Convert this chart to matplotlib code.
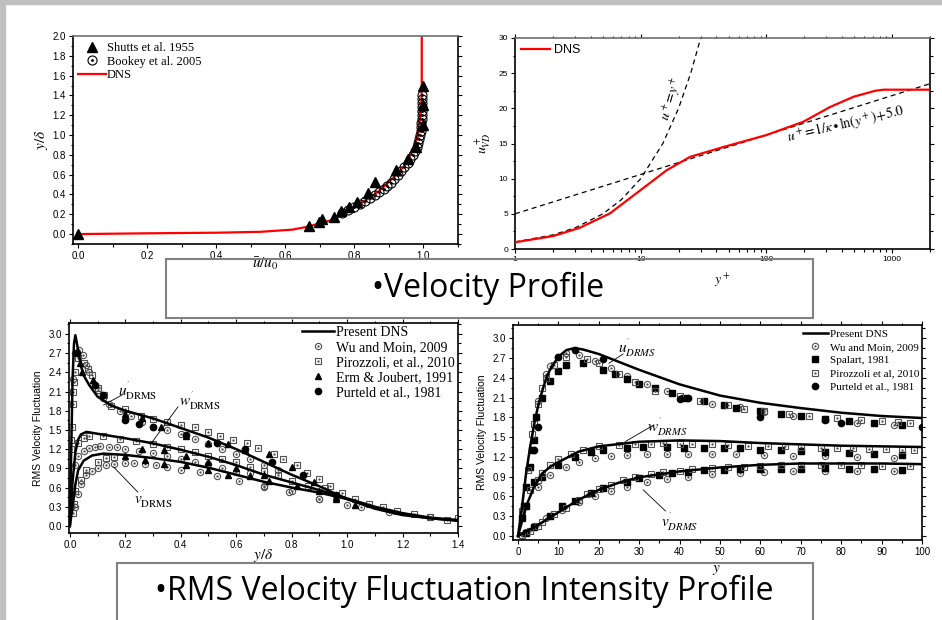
import matplotlib
matplotlib.use("Agg")
import matplotlib.pyplot as plt
from matplotlib.patches import Rectangle
from matplotlib.ticker import MultipleLocator, LogLocator, NullFormatter

plt.rcParams['font.family'] = ['Liberation Sans', 'DejaVu Sans']
plt.rcParams['mathtext.fontset'] = 'stix'

# ---- Velocity profile (outer units) ----
dns_u = [0.0, 0.2, 0.4, 0.528, 0.62, 0.664, 0.741, 0.819, 0.87, 0.916, 0.945, 0.964, 0.984, 0.993, 0.995, 0.995]
dns_yd = [0.0, 0.008, 0.014, 0.023, 0.045, 0.074, 0.148, 0.31, 0.43, 0.58, 0.69, 0.815, 0.98, 1.25, 1.45, 2.0]
shutts_u = [0.0, 0.669, 0.698, 0.707, 0.741, 0.761, 0.785, 0.807, 0.838, 0.86, 0.921, 0.955, 0.979, 1.0, 1.0, 1.0]
shutts_yd = [0.0, 0.084, 0.124, 0.151, 0.175, 0.236, 0.276, 0.327, 0.41, 0.53, 0.65, 0.76, 0.88, 1.10, 1.30, 1.50]
bookey_u = [0.765, 0.78, 0.80, 0.815, 0.83, 0.845, 0.86, 0.87, 0.885, 0.895, 0.905, 0.915, 0.925, 0.935, 0.945,
            0.955, 0.962, 0.97, 0.975, 0.98, 0.985, 0.988, 0.99, 0.992, 0.993, 0.994, 0.995, 0.995, 0.995, 0.995,
            0.995, 0.995, 0.995]
bookey_yd = [0.21, 0.24, 0.27, 0.30, 0.33, 0.36, 0.39, 0.42, 0.46, 0.49, 0.52, 0.56, 0.60, 0.64, 0.68,
             0.72, 0.76, 0.80, 0.84, 0.88, 0.92, 0.96, 1.00, 1.04, 1.08, 1.12, 1.16, 1.20, 1.24, 1.28,
             1.32, 1.36, 1.40]

# ---- Velocity profile (wall units) ----
vd_yplus = [1, 2.02, 3.29, 5.7, 10, 16.1, 24.7, 45.5, 100, 197, 322, 494, 735, 853, 2000]
vd_uplus = [0.95, 1.85, 3.03, 5.07, 8.39, 11.2, 13.1, 14.5, 16.2, 18.1, 20.2, 21.65, 22.5, 22.65, 22.65]
visc_yplus = [1, 2, 3, 5, 7, 10, 15, 20, 25, 30]
visc_uplus = [1, 2, 3, 5, 7, 10, 15, 20, 25, 30]
log_yplus = [1, 2000]
log_uplus = [5.0, 23.5]

# ---- RMS fluctuation vs y/delta ----
o_yd_u = [0, 0.005, 0.01, 0.015, 0.02, 0.03, 0.04, 0.05, 0.07, 0.1, 0.15, 0.2, 0.3, 0.4, 0.5, 0.6, 0.7, 0.8,
          0.9, 1.0, 1.1, 1.2, 1.3, 1.4]
o_u = [0, 1.2, 2.3, 2.85, 2.98, 2.75, 2.5, 2.35, 2.2, 2.02, 1.88, 1.8, 1.68, 1.53, 1.38, 1.2, 1.0, 0.8,
       0.62, 0.42, 0.27, 0.17, 0.12, 0.09]
o_yd_w = [0, 0.01, 0.02, 0.03, 0.04, 0.06, 0.1, 0.2, 0.3, 0.4, 0.5, 0.6, 0.7, 0.8, 0.9, 1.0, 1.1, 1.2, 1.3, 1.4]
o_w = [0, 0.7, 1.15, 1.35, 1.43, 1.47, 1.44, 1.37, 1.29, 1.19, 1.08, 0.95, 0.8, 0.68, 0.56, 0.43, 0.3, 0.2,
       0.13, 0.09]
o_yd_v = [0, 0.01, 0.02, 0.03, 0.05, 0.08, 0.12, 0.2, 0.3, 0.4, 0.5, 0.6, 0.7, 0.8, 0.9, 1.0, 1.1, 1.2, 1.3, 1.4]
o_v = [0, 0.3, 0.65, 0.87, 1.02, 1.1, 1.13, 1.11, 1.06, 1.0, 0.91, 0.8, 0.69, 0.6, 0.52, 0.42, 0.29, 0.19,
       0.12, 0.08]

o_wu_x = [0.005, 0.012, 0.02, 0.034, 0.046, 0.058, 0.07, 0.1, 0.12, 0.14, 0.18, 0.22, 0.26, 0.3, 0.35, 0.4,
          0.45, 0.5, 0.55, 0.6, 0.65, 0.7, 0.75,
          0.02, 0.03, 0.05, 0.07, 0.09, 0.11, 0.14, 0.17, 0.2, 0.25, 0.3, 0.35, 0.4, 0.45, 0.5, 0.55, 0.6,
          0.65, 0.7, 0.8, 0.9,
          0.02, 0.03, 0.04, 0.06, 0.08, 0.1, 0.13, 0.16, 0.2, 0.23, 0.27, 0.31, 0.35, 0.4, 0.47, 0.53, 0.61,
          0.7, 0.79, 0.9, 1.0, 1.05, 1.15, 1.3]
o_wu_y = [0.3, 2.3, 2.7, 2.75, 2.67, 2.52, 2.41, 2.12, 2.0, 1.9, 1.8, 1.72, 1.63, 1.55, 1.5, 1.43,
          1.36, 1.28, 1.2, 1.12, 1.05, 0.95, 0.88,
          0.95, 1.1, 1.17, 1.22, 1.24, 1.25, 1.24, 1.23, 1.2, 1.17, 1.14, 1.1, 1.05, 1.0, 0.96, 0.9, 0.85,
          0.82, 0.61, 0.55, 0.42,
          0.3, 0.5, 0.65, 0.8, 0.86, 0.9, 0.95, 0.97, 0.98, 0.98, 0.97, 0.95, 0.92, 0.88, 0.84, 0.78, 0.7,
          0.62, 0.53, 0.42, 0.32, 0.29, 0.22, 0.14]
o_pi_x = [0.005, 0.008, 0.01, 0.012, 0.015, 0.018, 0.03, 0.05, 0.065, 0.08, 0.1, 0.125, 0.15, 0.2, 0.255,
          0.3, 0.35, 0.4, 0.45, 0.5, 0.54, 0.59, 0.64, 0.68, 0.735, 0.77, 0.82, 0.855, 0.9, 0.94, 0.98,
          1.03, 1.08, 1.13, 1.18, 1.24, 1.3, 1.36, 1.4,
          0.005, 0.03, 0.05, 0.07, 0.12, 0.18, 0.24, 0.3, 0.35, 0.4, 0.45, 0.5, 0.55, 0.6, 0.65, 0.7, 0.75,
          0.8, 0.86, 0.92,
          0.01, 0.015, 0.02, 0.04, 0.06, 0.1, 0.13, 0.16]
o_pi_y = [1.2, 1.55, 1.9, 2.1, 2.25, 2.4, 2.62, 2.55, 2.45, 2.35, 2.15, 2.05, 1.88, 1.82, 1.72,
          1.67, 1.63, 1.58, 1.54, 1.47, 1.41, 1.35, 1.29, 1.21, 1.13, 1.04, 0.95, 0.83, 0.73, 0.63, 0.51,
          0.42, 0.35, 0.3, 0.24, 0.18, 0.14, 0.1, 0.12,
          1.35, 1.3, 1.38, 1.4, 1.4, 1.36, 1.33, 1.28, 1.23, 1.2, 1.15, 1.1, 1.05, 1.0, 0.92, 0.86, 0.8,
          0.7, 0.63, 0.6,
          0.2, 0.35, 0.55, 0.72, 0.88, 1.0, 1.06, 1.08]
o_erm_x = [0.035, 0.045, 0.085, 0.2, 0.26, 0.33, 0.42, 0.5, 0.57, 0.63, 0.72, 0.8, 0.88, 0.96,
           0.2, 0.26, 0.34, 0.42, 0.5, 0.6, 0.7,
           0.27, 0.34, 0.42, 0.5, 0.57, 0.65, 0.72, 0.82, 0.9, 0.96, 1.03]
o_erm_y = [2.55, 2.4, 2.28, 1.75, 1.68, 1.55, 1.4, 1.3, 1.28, 1.18, 1.12, 0.92, 0.68, 0.45,
           1.1, 1.2, 1.18, 1.1, 1.0, 0.9, 0.8,
           1.03, 0.97, 0.95, 0.87, 0.8, 0.78, 0.7, 0.62, 0.55, 0.42, 0.33]
o_pu_x = [0.025, 0.09, 0.12, 0.2, 0.25, 0.3, 0.42, 0.53, 0.63, 0.73, 0.84, 0.96]
o_pu_y = [2.7, 2.2, 2.05, 1.65, 1.6, 1.55, 1.42, 1.3, 1.2, 1.0, 0.8, 0.48]

# ---- RMS fluctuation vs y+ ----
w_yp_u = [0, 1, 2, 3, 4, 5, 6, 7, 8, 10, 12, 14, 16, 20, 25, 30, 40, 50, 60, 70, 80, 90, 100]
w_u = [0, 0.45, 0.95, 1.35, 1.7, 1.98, 2.2, 2.4, 2.53, 2.72, 2.82, 2.85, 2.83, 2.76, 2.64, 2.52, 2.3, 2.13,
       2.02, 1.94, 1.87, 1.82, 1.79]
w_yp_w = [0, 2, 4, 6, 8, 10, 15, 20, 30, 40, 50, 60, 70, 80, 90, 100]
w_w = [0, 0.45, 0.75, 0.95, 1.05, 1.12, 1.28, 1.36, 1.43, 1.45, 1.44, 1.41, 1.39, 1.37, 1.36, 1.35]
w_yp_v = [0, 5, 10, 15, 20, 25, 30, 40, 50, 60, 70, 80, 90, 100]
w_v = [0, 0.17, 0.36, 0.55, 0.7, 0.81, 0.89, 0.98, 1.04, 1.08, 1.1, 1.1, 1.1, 1.09]

w_wu_x = [2, 5, 7, 8, 10, 12, 15, 19, 23, 27, 32, 37, 42, 48, 55, 61, 68, 76, 84, 93,
          5, 8, 12, 15, 19, 23, 27, 32, 37, 42, 48, 54, 61, 68, 76, 84, 93,
          1, 2, 4, 7, 11, 15, 19, 23, 27, 32, 37, 42, 48, 55, 61, 68, 76, 84, 93]
w_wu_y = [0.45, 2.05, 2.45, 2.58, 2.72, 2.78, 2.75, 2.65, 2.55, 2.42, 2.3, 2.2, 2.1, 2.0, 1.95, 1.88, 1.82,
          1.77, 1.72, 1.68,
          0.75, 0.92, 1.04, 1.12, 1.18, 1.22, 1.23, 1.24, 1.25, 1.25, 1.24, 1.24, 1.23, 1.22, 1.21, 1.2, 1.19,
          0.0, 0.06, 0.15, 0.27, 0.4, 0.51, 0.6, 0.68, 0.75, 0.82, 0.87, 0.9, 0.94, 0.95, 0.97, 0.98, 0.98,
          0.98, 0.98]
w_sp_x = [1, 1.5, 2, 3, 3.5, 4, 4.5, 6, 8, 10, 12, 16, 21, 24, 27, 30, 34, 38, 41, 46, 51, 54, 60, 65, 70,
          76, 82, 88, 95,
          2, 4, 6, 10, 14, 18, 21, 27, 31, 37, 41, 46, 51, 55, 60, 65, 70, 76, 82, 88, 95,
          2, 4, 8, 11, 14, 18, 21, 27, 30, 35, 38, 42, 46, 51, 55, 60, 65, 70, 76, 82, 88, 95]
w_sp_y = [0.28, 0.45, 0.75, 1.05, 1.3, 1.45, 1.8, 2.1, 2.35, 2.5, 2.6, 2.62, 2.52, 2.46, 2.38, 2.3, 2.24,
          2.17, 2.1, 2.05, 1.99, 1.94, 1.9, 1.85, 1.82, 1.78, 1.75, 1.72, 1.69,
          0.45, 0.82, 0.9, 1.07, 1.2, 1.28, 1.3, 1.34, 1.35, 1.35, 1.34, 1.34, 1.33, 1.33, 1.31, 1.31, 1.29,
          1.27, 1.26, 1.25, 1.23,
          0.05, 0.14, 0.3, 0.45, 0.53, 0.66, 0.73, 0.82, 0.88, 0.93, 0.95, 0.97, 1.0, 1.0, 1.02, 1.02, 1.02,
          1.02, 1.03, 1.02, 1.01, 1.0]
w_pi_x = [1, 2.5, 3.5, 4, 5, 6, 7, 9, 12, 17, 20, 25, 29, 34, 40, 45, 52, 56, 61, 67, 72, 79, 85, 90, 94, 97,
          3, 5, 6, 8, 10, 13, 16, 20, 25, 29, 33, 36, 40, 43, 48, 52, 57, 62, 66, 70, 75, 79, 83, 87, 91, 95,
          98,
          1, 3, 5, 6, 9, 12, 15, 17, 20, 23, 26, 29, 33, 36, 40, 43, 48, 52, 56, 60, 65, 70, 75, 80, 85, 90,
          97]
w_pi_y = [0.38, 1.0, 1.55, 1.7, 2.0, 2.25, 2.4, 2.6, 2.72, 2.68, 2.62, 2.45, 2.33, 2.2, 2.12, 2.05, 1.98,
          1.93, 1.89, 1.85, 1.82, 1.79, 1.76, 1.75, 1.73, 1.71,
          0.7, 0.85, 0.95, 1.08, 1.17, 1.25, 1.3, 1.36, 1.38, 1.4, 1.4, 1.41, 1.4, 1.4, 1.39, 1.38, 1.37, 1.37,
          1.36, 1.35, 1.34, 1.34, 1.33, 1.32, 1.32, 1.31, 1.3,
          0.02, 0.08, 0.15, 0.22, 0.33, 0.42, 0.55, 0.63, 0.72, 0.78, 0.85, 0.9, 0.94, 0.97, 0.99, 1.01, 1.03,
          1.04, 1.05, 1.06, 1.07, 1.07, 1.07, 1.07, 1.07, 1.06, 1.06]
w_pu_x = [4, 5, 10, 14, 21, 40, 42, 60, 76, 80, 100]
w_pu_y = [1.3, 1.65, 2.72, 2.82, 2.68, 2.08, 2.1, 1.8, 1.76, 1.72, 1.65]


# Helper: open marker with a small dot in the middle
def dotted(ax, x, y, marker, ec, ms):
    h1 = ax.plot(x, y, ls='none', marker=marker, mfc='none', mec=ec, ms=ms, mew=0.8)[0]
    h2 = ax.plot(x, y, ls='none', marker='.', color=ec, ms=ms * 0.3)[0]
    return (h1, h2)


def style_axes(ax, size=7):
    ax.tick_params(which='both', direction='out', labelsize=size, top=True, right=True, pad=2)
    ax.tick_params(which='major', length=3, width=0.8)
    ax.tick_params(which='minor', length=1.8, width=0.8)
    for sp in ax.spines.values():
        sp.set_linewidth(1.2)


fig = plt.figure(figsize=(9.42, 6.2), dpi=100)
W, H = 942.0, 620.0


def axes_px(x0, y0, x1, y1):
    return fig.add_axes([x0 / W, 1 - y1 / H, (x1 - x0) / W, (y1 - y0) / H])


serif = ['Liberation Serif', 'DejaVu Serif']

# Panel 1: outer velocity profile
ax1 = axes_px(73, 36, 458, 244)
h_dns, = ax1.plot(dns_u, dns_yd, color='red', lw=1.6, zorder=2)
h_sh, = ax1.plot(shutts_u, shutts_yd, ls='none', marker='^', color='black', ms=7, zorder=3)
h_bk = dotted(ax1, bookey_u, bookey_yd, 'o', 'black', 6.5)
ax1.set_xlim(-0.015, 1.1)
ax1.set_ylim(-0.1, 2.0)
ax1.xaxis.set_major_locator(MultipleLocator(0.2))
ax1.xaxis.set_minor_locator(MultipleLocator(0.1))
ax1.yaxis.set_major_locator(MultipleLocator(0.2))
ax1.yaxis.set_minor_locator(MultipleLocator(0.1))
style_axes(ax1)
ax1.tick_params(which='both', top=False)
ax1.spines['top'].set_color('#707070')
ax1.set_xlabel(r'$\bar{u}/u_0$', fontsize=11, labelpad=-4)
ax1.set_ylabel(r'$y/\delta$', fontsize=11, labelpad=2)
ax1.legend([h_sh, h_bk, h_dns], ['Shutts et al. 1955', 'Bookey et al. 2005', 'DNS'],
           loc='upper left', bbox_to_anchor=(0.0, 0.995), frameon=False, borderpad=0.2,
           labelspacing=0.12, handlelength=2.2, handletextpad=0.1, borderaxespad=0.2,
           prop={'family': serif, 'size': 9})

# Panel 2: van Driest velocity in wall units
ax2 = axes_px(515, 38, 930, 249)
ax2.set_xscale('log')
h_vd, = ax2.plot(vd_yplus, vd_uplus, color='red', lw=1.6, zorder=3)
ax2.plot(visc_yplus, visc_uplus, 'k--', lw=0.9, dashes=(4, 3))
ax2.plot(log_yplus, log_uplus, 'k--', lw=0.9, dashes=(4, 3))
ax2.set_xlim(1, 2000)
ax2.set_ylim(0, 30)
ax2.xaxis.set_minor_locator(LogLocator(base=10, subs=range(2, 10), numticks=10))
ax2.xaxis.set_minor_formatter(NullFormatter())
ax2.set_xticks([1, 10, 100, 1000])
ax2.set_xticklabels(['1', '10', '100', '1000'])
ax2.yaxis.set_major_locator(MultipleLocator(5))
ax2.yaxis.set_minor_locator(MultipleLocator(2.5))
style_axes(ax2, size=6)
ax2.spines['top'].set_color('#707070')
ax2.text(17.5, 21.3, r'$u^+\!=\!y^+$', rotation=74, fontsize=10, ha='center', va='center')
ax2.text(430, 17.8, r'$u^+\!=\!1/\kappa\bullet\ln(y^+)\!+\!5.0$', rotation=13, fontsize=10,
         ha='center', va='center')
ax2.set_xlabel(r'$y^+$', fontsize=10, labelpad=6)
ax2.set_ylabel(r'$u^+_{VD}$', fontsize=10, labelpad=4)
ax2.legend([h_vd], ['DNS'], loc='upper left', frameon=False, handlelength=2.3, handletextpad=0.3,
           borderaxespad=0.2, borderpad=0.3, prop={'size': 9})

# Panel 3: RMS fluctuations vs y/delta
ax3 = axes_px(69, 323, 458, 533)
h_l, = ax3.plot(o_yd_u, o_u, color='black', lw=1.8, zorder=4)
ax3.plot(o_yd_w, o_w, color='black', lw=1.8, zorder=4)
ax3.plot(o_yd_v, o_v, color='black', lw=1.8, zorder=4)
h_wu = dotted(ax3, o_wu_x, o_wu_y, 'o', '#505050', 4.5)
h_pi = dotted(ax3, o_pi_x, o_pi_y, 's', '#505050', 4.5)
h_er, = ax3.plot(o_erm_x, o_erm_y, ls='none', marker='^', color='black', ms=5)
h_pu, = ax3.plot(o_pu_x, o_pu_y, ls='none', marker='o', color='black', ms=4.5)
ax3.set_xlim(-0.003, 1.4)
ax3.set_ylim(-0.11, 3.17)
ax3.xaxis.set_major_locator(MultipleLocator(0.2))
ax3.xaxis.set_minor_locator(MultipleLocator(0.1))
ax3.yaxis.set_major_locator(MultipleLocator(0.3))
ax3.yaxis.set_minor_locator(MultipleLocator(0.15))
style_axes(ax3)
ax3.set_xlabel(r'$y/\delta$', fontsize=11, labelpad=-2)
ax3.set_ylabel('RMS Velocity Fluctuation', fontsize=7.5, labelpad=4)
ax3.text(0.245, 2.12, r"$u^{'}_{\rm DRMS}$", fontsize=11, ha='center', va='center', zorder=6)
ax3.plot([0.19, 0.122], [2.05, 1.89], color='black', lw=0.6)
ax3.text(0.47, 1.95, r"$w^{'}_{\rm DRMS}$", fontsize=11, ha='center', va='center', zorder=6)
ax3.plot([0.39, 0.29], [1.86, 1.27], color='black', lw=0.6)
ax3.text(0.3, 0.42, r"$v^{'}_{\rm DRMS}$", fontsize=11, ha='center', va='center', zorder=6)
ax3.plot([0.245, 0.158], [0.53, 0.92], color='black', lw=0.6)
ax3.legend([h_l, h_wu, h_pi, h_er, h_pu],
           ['Present DNS', 'Wu and Moin, 2009', 'Pirozzoli, et al., 2010', 'Erm & Joubert, 1991',
            'Purteld et al., 1981'],
           loc='upper right', bbox_to_anchor=(1.0, 1.0), frameon=False, borderpad=0.1,
           labelspacing=0.15, handlelength=2.3, handletextpad=0.2, borderaxespad=0.1,
           prop={'family': serif, 'size': 10})

# Panel 4: RMS fluctuations vs y+
ax4 = axes_px(513, 325, 922, 540)
h_l4, = ax4.plot(w_yp_u, w_u, color='black', lw=1.8, zorder=4)
ax4.plot(w_yp_w, w_w, color='black', lw=1.8, zorder=4)
ax4.plot(w_yp_v, w_v, color='black', lw=1.8, zorder=4)
h_wu4 = dotted(ax4, w_wu_x, w_wu_y, 'o', '#505050', 4.5)
h_sp, = ax4.plot(w_sp_x, w_sp_y, ls='none', marker='s', color='black', ms=4.2)
h_pi4 = dotted(ax4, w_pi_x, w_pi_y, 's', '#505050', 4.5)
h_pu4, = ax4.plot(w_pu_x, w_pu_y, ls='none', marker='o', color='black', ms=4.5)
ax4.set_xlim(-1.24, 100)
ax4.set_ylim(-0.06, 3.2)
ax4.xaxis.set_major_locator(MultipleLocator(10))
ax4.xaxis.set_minor_locator(MultipleLocator(5))
ax4.yaxis.set_major_locator(MultipleLocator(0.3))
ax4.yaxis.set_minor_locator(MultipleLocator(0.15))
style_axes(ax4)
ax4.set_xlabel(r"$y^{'}$", fontsize=11, labelpad=0)
ax4.set_ylabel('RMS Velocity Fluctuation', fontsize=7.5, labelpad=4)
ax4.text(29.5, 2.86, r"$u^{'}_{DRMS}$", fontsize=11, ha='center', va='center', zorder=6)
ax4.plot([26, 22.5], [2.76, 2.62], color='black', lw=0.6)
ax4.text(37, 1.66, r"$w^{'}_{DRMS}$", fontsize=11, ha='center', va='center', zorder=6)
ax4.plot([33.5, 26.5], [1.68, 1.43], color='black', lw=0.6)
ax4.text(40, 0.22, r"$v^{'}_{DRMS}$", fontsize=11, ha='center', va='center', zorder=6)
ax4.plot([36.5, 31], [0.38, 0.7], color='black', lw=0.6)
ax4.legend([h_l4, h_wu4, h_sp, h_pi4, h_pu4],
           ['Present DNS', 'Wu and Moin, 2009', 'Spalart, 1981', 'Pirozzoli et al, 2010',
            'Purteld et al., 1981'],
           loc='upper right', bbox_to_anchor=(1.0, 0.99), frameon=False, borderpad=0.1,
           labelspacing=0.3, handlelength=2.3, handletextpad=0.2, borderaxespad=0.1,
           prop={'family': serif, 'size': 8})

# Slide decorations: gray frame edge and the two caption boxes
fig.add_artist(Rectangle((0, 0), 5 / W, 1, transform=fig.transFigure, color='#c0c0c0', zorder=0))
fig.add_artist(Rectangle((0, 1 - 4 / H), 1, 4 / H, transform=fig.transFigure, color='#c0c0c0', zorder=0))
fig.add_artist(Rectangle((166 / W, 1 - 318 / H), (813 - 166) / W, (318 - 259) / H,
                         transform=fig.transFigure, fill=False, ec='#808080', lw=1.5, zorder=10))
fig.add_artist(Rectangle((117 / W, -0.02), (813 - 117) / W, 1 - 563 / H + 0.02,
                         transform=fig.transFigure, fill=False, ec='#808080', lw=1.5, zorder=10))
caption_font = ['Open Sans', 'DejaVu Sans']
fig.text(488 / W, 1 - 297 / H, '\u2022Velocity Profile', fontsize=23, family=caption_font,
         ha='center', va='baseline', zorder=11)
fig.text(464 / W, 1 - 600 / H, '\u2022RMS Velocity Fluctuation Intensity Profile', fontsize=23,
         family=caption_font, ha='center', va='baseline', zorder=11)

fig.savefig('out.png', dpi=100)
